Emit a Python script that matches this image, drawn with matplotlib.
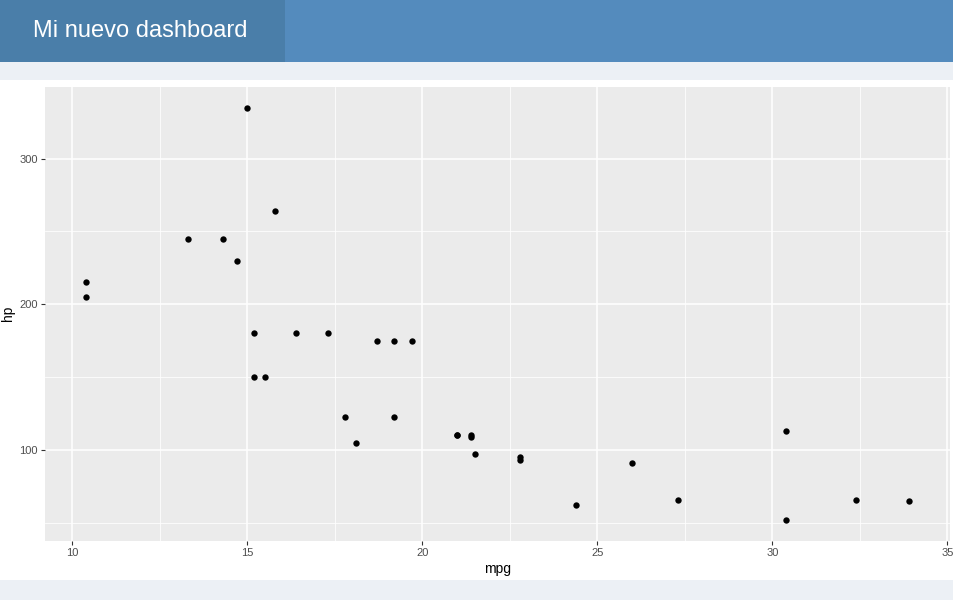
import matplotlib.pyplot as plt
from matplotlib.patches import Rectangle
from matplotlib.ticker import MultipleLocator

# mtcars: mpg vs hp
mpg = [21.0, 21.0, 22.8, 21.4, 18.7, 18.1, 14.3, 24.4, 22.8, 19.2, 17.8,
       16.4, 17.3, 15.2, 10.4, 10.4, 14.7, 32.4, 30.4, 33.9, 21.5, 15.5,
       15.2, 13.3, 19.2, 27.3, 26.0, 30.4, 15.8, 19.7, 15.0, 21.4]
hp = [110, 110, 93, 110, 175, 105, 245, 62, 95, 123, 123,
      180, 180, 180, 205, 215, 230, 66, 52, 65, 97, 150,
      150, 245, 175, 66, 91, 113, 264, 175, 335, 109]
title = "Mi nuevo dashboard"

plt.rcParams["font.family"] = ["Liberation Sans", "DejaVu Sans"]

W, H = 954, 600
fig = plt.figure(figsize=(W / 100, H / 100), dpi=100)
fig.patch.set_facecolor("#ecf0f5")

# page furniture in pixel coords
bg = fig.add_axes([0, 0, 1, 1])
bg.set_xlim(0, W)
bg.set_ylim(H, 0)
bg.axis("off")
bg.add_patch(Rectangle((0, 0), W, 62, color="#548bbd", lw=0))
bg.add_patch(Rectangle((0, 0), 285, 62, color="#4a7ea9", lw=0))
bg.add_patch(Rectangle((0, 80), W, 500, color="white", lw=0))
bg.text(33, 31, title, color="white", fontsize=17, va="center", ha="left")


def px(l, t, r, b):
    return [l / W, 1 - b / H, (r - l) / W, (b - t) / H]


ax = fig.add_axes(px(45, 87, 950, 540.6))
ax.set_facecolor("#ebebeb")
ax.scatter(mpg, hp, s=21, color="black", zorder=3, linewidths=0)

lo, hi = min(mpg), max(mpg)
ax.set_xlim(lo - 0.05 * (hi - lo), hi + 0.05 * (hi - lo))
lo, hi = min(hp), max(hp)
ax.set_ylim(lo - 0.05 * (hi - lo), hi + 0.05 * (hi - lo))

ax.xaxis.set_major_locator(MultipleLocator(5))
ax.xaxis.set_minor_locator(MultipleLocator(2.5))
ax.yaxis.set_major_locator(MultipleLocator(100))
ax.yaxis.set_minor_locator(MultipleLocator(50))
ax.grid(which="major", color="white", lw=1.1)
ax.grid(which="minor", color="white", lw=0.55)
ax.set_axisbelow(True)
for s in ax.spines.values():
    s.set_visible(False)
ax.tick_params(which="major", length=2.75, width=0.8, color="#333333",
               labelcolor="#4d4d4d", labelsize=8, pad=2.5)
ax.tick_params(which="minor", length=0)

ax.set_xlabel("mpg", fontsize=10, labelpad=3)
ax.set_ylabel("hp", fontsize=10, labelpad=3)

fig.savefig("out.png", dpi=100, facecolor=fig.get_facecolor())
